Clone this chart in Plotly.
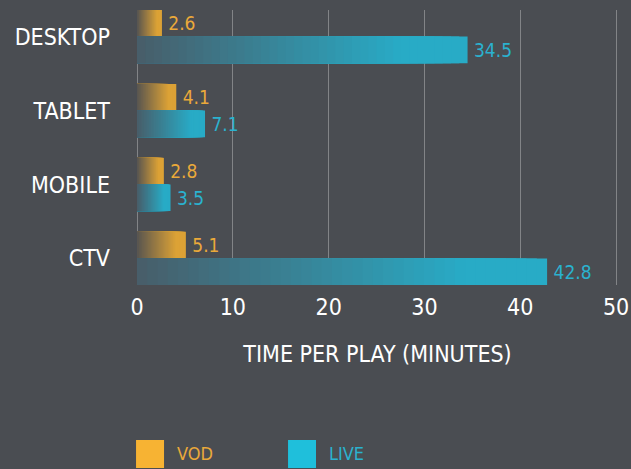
import plotly.graph_objects as go

categories = ["DESKTOP", "TABLET", "MOBILE", "CTV"]
vod = [2.6, 4.1, 2.8, 5.1]
live = [34.5, 7.1, 3.5, 42.8]
x_ticks = [0, 10, 20, 30, 40, 50]

BG = "#4a4d52"
FONT = "Liberation Sans Narrow, DejaVu Sans Condensed, Roboto, Arial"

series = [
    ("VOD", vod, (0x58, 0x55, 0x50), (0xdc, 0xa2, 0x36), "#eaa93a"),
    ("LIVE", live, (0x48, 0x5d, 0x69), (0x28, 0xab, 0xc6), "#2ab2cf"),
]

N = 40
fig = go.Figure()


def mix(a, b, t):
    return "rgb(%d,%d,%d)" % tuple(round(a[k] + (b[k] - a[k]) * t) for k in range(3))


for name, vals, c0, c1, tcol in series:
    # gradient: nested bars from 0, longest (brightest) drawn first, shorter/darker on top
    for k in range(N, 0, -1):
        t = min(1.0, ((k - 0.5) / N) / 0.8)
        fig.add_trace(go.Bar(
            y=categories,
            x=[v * k / N for v in vals],
            orientation="h",
            offsetgroup=name,
            marker=dict(color=mix(c0, c1, t), line=dict(width=0)),
            showlegend=False,
            hoverinfo="skip",
        ))
    # full-length transparent bar carrying the value label
    fig.add_trace(go.Bar(
        y=categories,
        x=vals,
        orientation="h",
        offsetgroup=name,
        name=name,
        marker=dict(color="rgba(0,0,0,0)", line=dict(width=0)),
        text=["\u2009" + f"{v:.1f}" for v in vals],
        textposition="outside",
        cliponaxis=False,
        textfont=dict(color=tcol, size=19, family=FONT),
        showlegend=False,
    ))

# custom legend (large square swatches, coloured text)
legend_pos = [(-0.002, "VOD", "#f7b333", "#eaa93a"), (0.314, "LIVE", "#1fbfdb", "#2ab2cf")]
shapes = []
annotations = []
for x0, label, sw, tc in legend_pos:
    shapes.append(dict(type="rect", xref="paper", yref="paper",
                       x0=x0, x1=x0 + 0.0582, y0=-0.6655, y1=-0.5636,
                       fillcolor=sw, line=dict(width=0)))
    annotations.append(dict(xref="paper", yref="paper", x=x0 + 0.081, y=-0.614,
                            text=label, showarrow=False, xanchor="left", yanchor="middle",
                            font=dict(color=tc, size=18, family=FONT)))

fig.update_layout(
    width=631, height=469,
    margin=dict(l=137, r=13, t=10, b=184, autoexpand=False),
    paper_bgcolor=BG, plot_bgcolor=BG,
    barmode="group", bargap=0.28, bargroupgap=0,
    showlegend=False,
    font=dict(family=FONT, color="white"),
    shapes=shapes, annotations=annotations,
    xaxis=dict(
        range=[0, 50.2], tickvals=x_ticks, ticktext=[str(t) for t in x_ticks],
        automargin=False,
        showgrid=True, gridcolor="rgba(200,200,200,0.45)", gridwidth=1,
        zeroline=True, zerolinecolor="rgba(200,200,200,0.45)", zerolinewidth=1,
        showline=False, ticks="",
        ticklabelstandoff=6,
        tickfont=dict(size=23, color="white", family=FONT),
        title=dict(text="TIME PER PLAY (MINUTES)", font=dict(size=23, color="white", family=FONT), standoff=26),
    ),
    yaxis=dict(
        categoryorder="array", categoryarray=categories,
        automargin=False,
        autorange=False, range=[3.36, -0.36],
        showgrid=False, zeroline=False, showline=False, ticks="",
        ticklabelstandoff=26,
        tickfont=dict(size=23, color="white", family=FONT),
    ),
)

fig.write_html("out.html",
               config={"displayModeBar": False},
               post_script="document.body.style.margin='0';document.body.style.overflow='hidden';")
